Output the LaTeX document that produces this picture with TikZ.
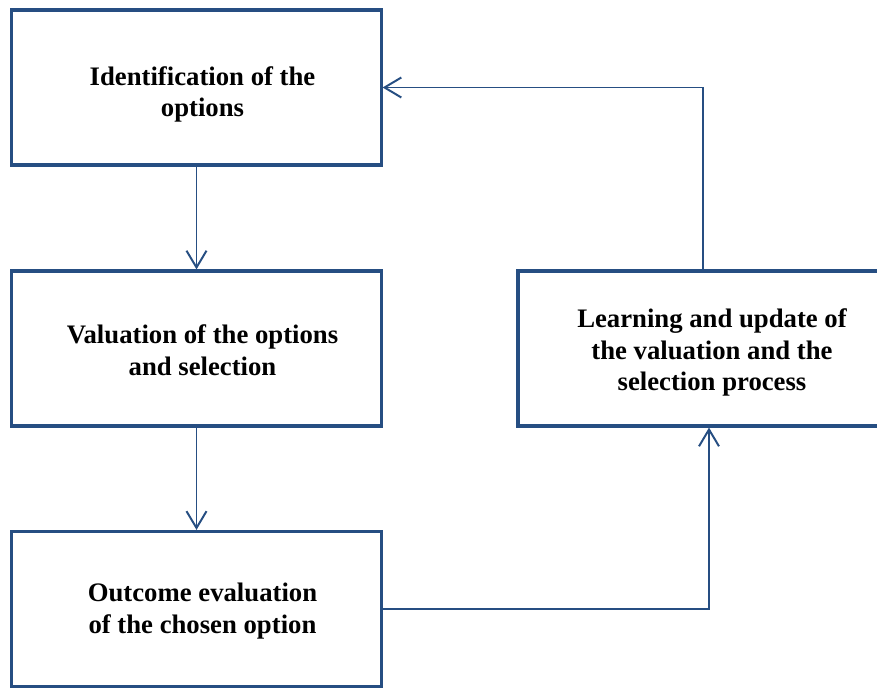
\documentclass[tikz,border=0pt]{standalone}
\usepackage{fontspec}
\setmainfont{Liberation Serif}
\usetikzlibrary{arrows.meta,positioning,calc}
\definecolor{lpblue}{HTML}{264E82}

\begin{document}
\begin{tikzpicture}[x=0.025cm,y=-0.025cm,
    lpbox/.style={draw=lpblue,line width=2.2pt,fill=white,
      minimum width=9.225cm,minimum height=3.875cm},
    lptext/.style={align=center,inner sep=0pt,
      font=\fontsize{19}{22.5}\selectfont\bfseries},
    lpflow/.style={lpblue,line width=1.4pt,
      -{Straight Barb[length=0.42cm,width=0.5cm,line width=1.4pt]}}]

  % ---- Canvas ------------------------------------------------
  \clip (0,0) rectangle (877,688);

  % ---- Loop stages ------------------------------------------
  \node[lpbox] (ident) at (196.5, 87.5) {};
  \node[lpbox] (valsel) at (196.5,348.5) {};
  \node[lpbox] (outcome) at (196.5,609) {};
  \node[lpbox,minimum width=9.4cm] (learn) at (706,348.5) {};

  % Stage texts (set a little right of and below the box centres)
  \node[lptext] (ident-txt) at ([shift={(6,7)}]ident.center)
    {Identification of the\\options};
  \node[lptext] (valsel-txt) at ([shift={(6,2)}]valsel.center)
    {Valuation of the options\\and selection};
  \node[lptext] (outcome-txt) at ([shift={(6,2)}]outcome.center)
    {Outcome evaluation\\of the chosen option};
  \node[lptext] (learn-txt) at ([shift={(6,4)}]learn.center)
    {Learning and update of\\the valuation and the\\selection process};

  % ---- Connectors ------------------------------------------
  \draw[lpflow] (ident.south) -- (valsel.north);
  \draw[lpflow] (valsel.south) -- (outcome.north);
  \draw[lpflow] (outcome.east) -| ([xshift=0.075cm]learn.south);
  \draw[lpflow] ([xshift=-0.075cm]learn.north) |- (ident.east);

\end{tikzpicture}
\end{document}
